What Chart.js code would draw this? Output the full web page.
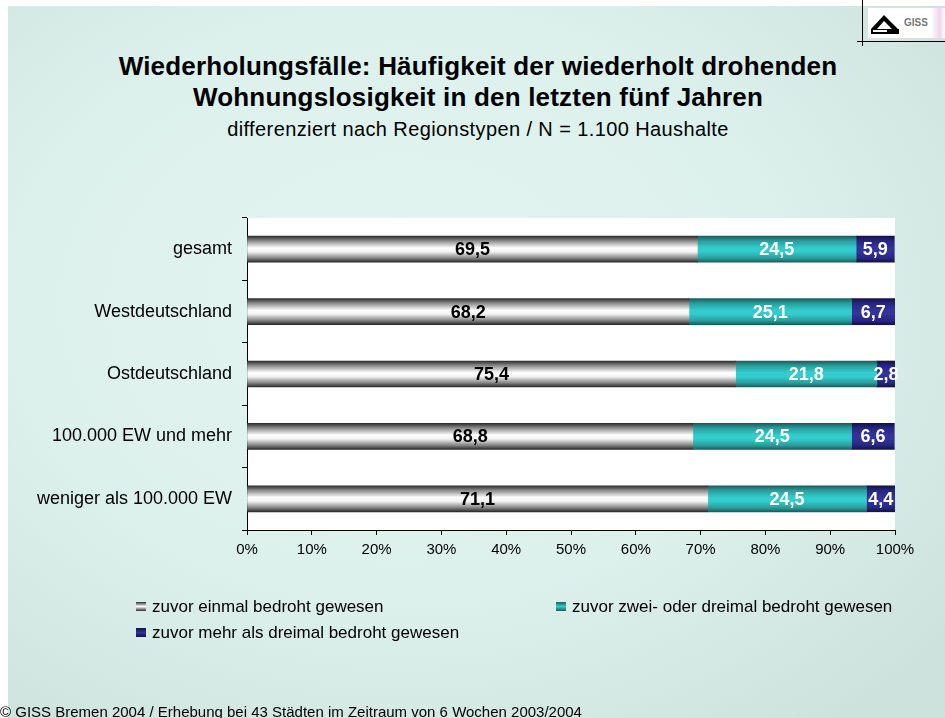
<!DOCTYPE html>
<html lang="de">
<head>
<meta charset="utf-8">
<title>Wiederholungsfälle</title>
<script src="https://cdn.jsdelivr.net/npm/chart.js@4/dist/chart.umd.min.js"></script>
<style>
    html, body { margin: 0; padding: 0; background: #fff; }
    body { width: 945px; height: 718px; position: relative; overflow: hidden; font-family: "Liberation Sans", Arial, sans-serif; }
    #bg {
        position: absolute; left: 8px; top: 6px; right: 0; bottom: 0;
        background: radial-gradient(ellipse 75% 75% at 42% 42%, #e3f5f1 0%, #dcf0ec 55%, #cde1dd 100%);
    }
    #plotbg { position: absolute; left: 247px; top: 218px; width: 648px; height: 312px; background: #fff; }
    canvas { position: absolute; left: 0; top: 0; }
    .titel { position: absolute; left: 0; width: 956px; text-align: center; color: #000; }
    #t1 { top: 51px; font-size: 26px; font-weight: bold; line-height: 31px; letter-spacing: 0.2px; }
    #t2 { top: 118px; font-size: 20px; letter-spacing: 0.4px; }
    .leg { position: absolute; font-size: 17px; color: #000; white-space: nowrap; }
    .leg i { display: inline-block; width: 10px; height: 9px; margin-right: 6px; vertical-align: 1px; }
    #fuss { position: absolute; left: 0; top: 703px; font-size: 15px; color: #000; white-space: nowrap; }
    #logo-v { position: absolute; left: 862px; top: 0; width: 1px; height: 46px; background: #000; }
    #logo-h { position: absolute; left: 857px; top: 41px; width: 88px; height: 1px; background: #000; }
    #logo-w { position: absolute; left: 868px; top: 8px; width: 77px; height: 30px; background: linear-gradient(90deg, #fff 0%, #fff 82%, #f0d4ec 93%, #fff 100%); }
    #logo-txt { position: absolute; left: 904px; top: 17px; font-size: 10px; font-weight: bold; color: #777; }
</style>
</head>
<body>
<div id="bg"></div>
<div id="plotbg"></div>
<div id="logo-w"></div>
<svg style="position:absolute;left:869px;top:11px" width="32" height="24">
    <polygon points="2,18 15,4 29,18 23,18 15,10 8,18" fill="#000"/>
    <rect x="2" y="18" width="28" height="5" fill="#000"/>
    <rect x="4" y="19" width="14" height="2" fill="#fff"/>
</svg>
<div id="logo-txt">GISS</div>
<div id="logo-v"></div>
<div id="logo-h"></div>

<div class="titel" id="t1">Wiederholungsfälle: Häufigkeit der wiederholt drohenden<br>Wohnungslosigkeit in den letzten fünf Jahren</div>
<div class="titel" id="t2">differenziert nach Regionstypen / N = 1.100 Haushalte</div>

<canvas id="grafico" width="945" height="718"></canvas>

<div id="legende"></div>
<div id="fuss">© GISS Bremen 2004 / Erhebung bei 43 Städten im Zeitraum von 6 Wochen 2003/2004</div>

<script>
// Daten
const regionen = ['gesamt', 'Westdeutschland', 'Ostdeutschland', '100.000 EW und mehr', 'weniger als 100.000 EW'];
const einmal = [69.5, 68.2, 75.4, 68.8, 71.1];
const zweiDrei = [24.5, 25.1, 21.8, 24.5, 24.5];
const mehrAlsDrei = [5.9, 6.7, 2.8, 6.6, 4.4];
const serienNamen = ['zuvor einmal bedroht gewesen', 'zuvor zwei- oder dreimal bedroht gewesen', 'zuvor mehr als dreimal bedroht gewesen'];
const xTicks = [0, 10, 20, 30, 40, 50, 60, 70, 80, 90, 100];

// Farbverläufe (Rand dunkel, Mitte hell)
const verlaeufe = [
    ['#2e2e2e', '#8c8c8c', '#ffffff', '#f2f2f2', '#808080', '#2a2a2a'],
    ['#1a5e5e', '#2a9c9c', '#33cccc', '#33cccc', '#2a9c9c', '#1a5e5e'],
    ['#12124a', '#262680', '#333399', '#333399', '#262680', '#12124a']
];
const stops = [0, 0.18, 0.45, 0.6, 0.85, 1];
const dicke = 26;

function balkenFarbe(serie) {
    return function (context) {
        const chart = context.chart;
        if (!chart.chartArea) return verlaeufe[serie][2];
        const y = chart.scales.y.getPixelForValue(context.dataIndex);
        const g = chart.ctx.createLinearGradient(0, y - dicke / 2, 0, y + dicke / 2);
        stops.forEach((s, i) => g.addColorStop(s, verlaeufe[serie][i]));
        return g;
    };
}

/**
 * Werte in die Balken schreiben
 */
const wertePlugin = {
    id: 'werte',
    afterDatasetsDraw(chart) {
        const ctx = chart.ctx;
        ctx.save();
        ctx.font = 'bold 18px "Liberation Sans", Arial, sans-serif';
        ctx.textAlign = 'center';
        ctx.textBaseline = 'middle';
        chart.data.datasets.forEach((ds, i) => {
            chart.getDatasetMeta(i).data.forEach((bar, j) => {
                ctx.fillStyle = i === 0 ? '#000' : '#fff';
                ctx.fillText(ds.data[j].toFixed(1).replace('.', ','), (bar.x + bar.base) / 2, bar.y + 1);
            });
        });
        ctx.restore();
    }
};

const daten = [einmal, zweiDrei, mehrAlsDrei];

new Chart(document.getElementById('grafico'), {
    type: 'bar',
    data: {
        labels: regionen,
        datasets: daten.map((werte, i) => ({
            label: serienNamen[i],
            data: werte,
            backgroundColor: balkenFarbe(i),
            borderWidth: 0,
            barThickness: dicke
        }))
    },
    options: {
        indexAxis: 'y',
        responsive: false,
        animation: false,
        layout: { padding: { left: 0, top: 218, right: 50, bottom: 0 } },
        scales: {
            x: {
                stacked: true,
                min: 0,
                max: 100,
                afterFit: s => { s.height = 188; },
                afterBuildTicks: s => { s.ticks = xTicks.map(v => ({ value: v })); },
                border: { color: '#000', width: 1 },
                grid: { drawOnChartArea: false, color: '#000', tickLength: 5 },
                ticks: {
                    color: '#000',
                    padding: 6,
                    font: { size: 15, family: '"Liberation Sans", Arial, sans-serif' },
                    callback: v => v + '%'
                }
            },
            y: {
                stacked: true,
                afterFit: s => { s.width = 247; },
                border: { color: '#000', width: 1 },
                grid: { drawOnChartArea: false, color: '#000', tickLength: 5, offset: true },
                ticks: {
                    color: '#000',
                    padding: 10,
                    font: { size: 18, family: '"Liberation Sans", Arial, sans-serif' }
                }
            }
        },
        plugins: {
            legend: { display: false },
            tooltip: { enabled: false }
        }
    },
    plugins: [wertePlugin]
});

// Legende
const legPos = [[136, 597], [556, 597], [136, 623]];
const legendeEl = document.getElementById('legende');
serienNamen.forEach((name, i) => {
    const d = document.createElement('div');
    d.className = 'leg';
    d.style.left = legPos[i][0] + 'px';
    d.style.top = legPos[i][1] + 'px';
    const v = verlaeufe[i];
    d.innerHTML = '<i style="background:linear-gradient(' + v[0] + ',' + v[2] + ' 50%,' + v[5] + ')"></i>' + name;
    legendeEl.appendChild(d);
});
</script>
</body>
</html>
